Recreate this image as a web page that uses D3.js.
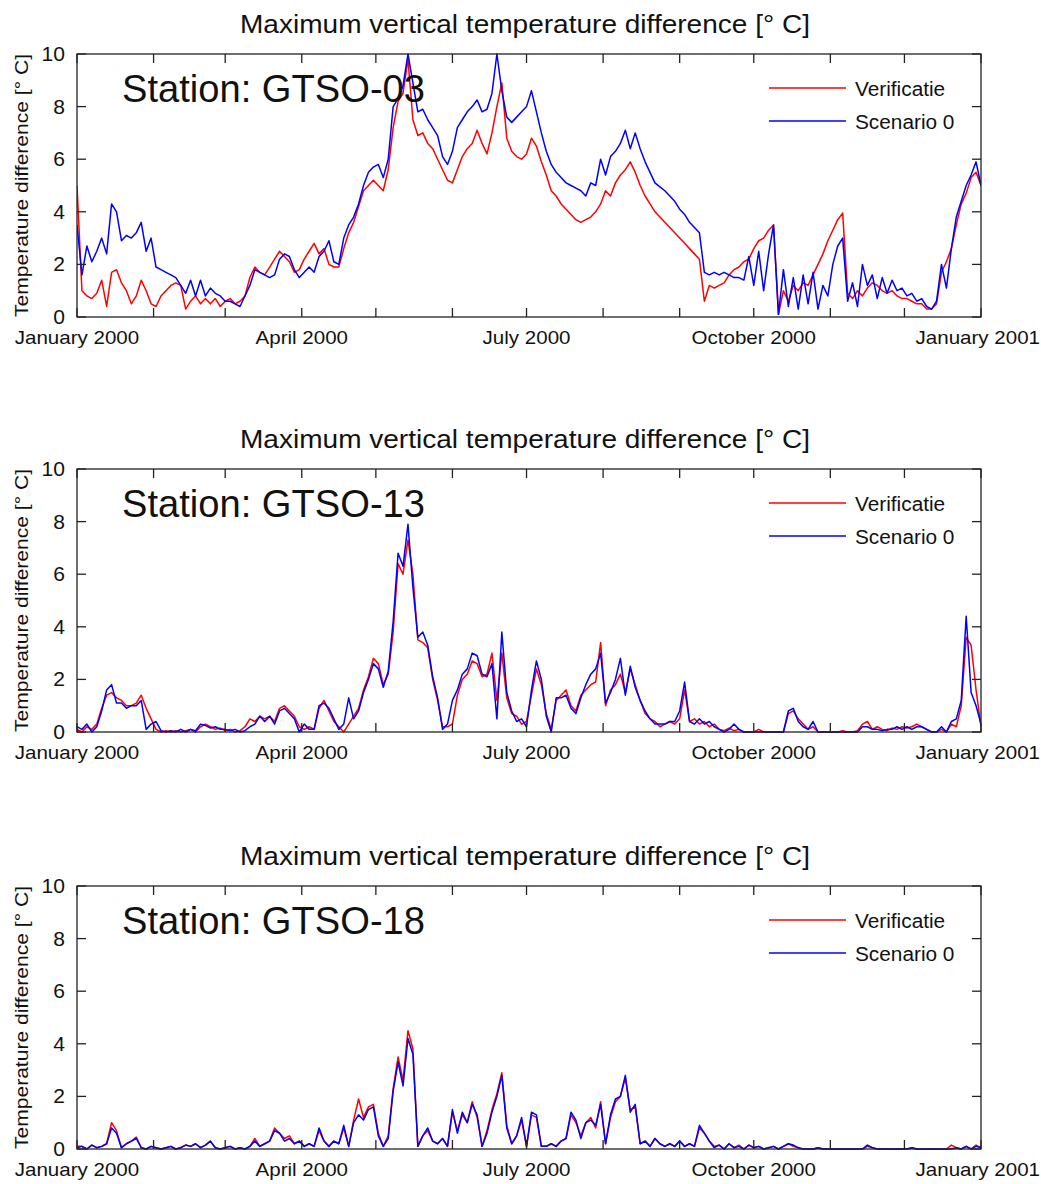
<!DOCTYPE html>
<html><head><meta charset="utf-8">
<script src="https://cdn.jsdelivr.net/npm/d3@7"></script>
<style>
body{margin:0;background:#fff}
svg{display:block}
text{font-family:"Liberation Sans",Arial,Helvetica,sans-serif;fill:#111}
</style>
</head><body>
<svg id="chart" width="1041" height="1184"></svg>
<script>
// ---------------- data ----------------
const titleText = "Maximum vertical temperature difference [\u00b0 C]";
const yLabelText = "Temperature difference [\u00b0 C]";
const stations = ["Station: GTSO-03", "Station: GTSO-13", "Station: GTSO-18"];
const seriesNames = ["Verificatie", "Scenario 0"];
const seriesColors = ["#ff0000", "#0000ff"];
const yTicks = [0, 2, 4, 6, 8, 10];
const labelledMonths = [0, 3, 6, 9]; // January, April, July, October (+ January of next year)
const startDate = new Date(Date.UTC(2000, 0, 1));
const endDate = new Date(Date.UTC(2001, 0, 1));
const stepDays = 2; // one value every 2 days

// Station GTSO-03
const verif03 = [
5.0,1.0,0.8,0.7,0.9,1.4,0.4,1.7,1.8,1.3,
1.0,0.5,0.8,1.4,1.0,0.5,0.4,0.8,1.0,1.2,
1.3,1.2,0.3,0.6,0.8,0.5,0.7,0.5,0.7,0.4,
0.6,0.7,0.5,0.6,0.8,1.5,1.9,1.7,1.6,1.9,
2.2,2.5,2.3,2.1,1.7,1.8,2.2,2.5,2.8,2.4,
2.6,2.0,1.9,1.9,2.6,3.2,3.6,4.2,4.8,5.0,
5.2,5.0,4.8,5.6,7.2,8.2,8.5,9.8,7.5,6.9,
7.0,6.6,6.4,6.0,5.6,5.2,5.1,5.6,6.1,6.4,
6.6,7.1,6.6,6.2,7.0,8.0,8.9,6.8,6.3,6.1,
6.0,6.2,6.8,6.5,5.9,5.4,4.8,4.6,4.3,4.1,
3.9,3.7,3.6,3.7,3.8,4.0,4.3,4.8,4.6,5.1,
5.4,5.6,5.9,5.5,5.0,4.6,4.3,4.0,3.8,3.6,
3.4,3.2,3.0,2.8,2.6,2.4,2.2,0.6,1.2,1.1,
1.2,1.3,1.6,1.8,1.9,2.1,2.2,2.6,2.9,3.0,
3.3,3.5,0.1,1.0,0.6,1.2,1.0,1.3,1.2,1.6,
2.0,2.4,2.9,3.3,3.7,3.95,0.9,0.7,1.0,0.8,
1.1,1.3,1.2,1.0,0.9,1.0,0.8,0.7,0.7,0.6,
0.5,0.5,0.3,0.3,0.5,1.7,2.1,2.6,3.5,4.3,
4.7,5.3,5.5,5.0];
const scen03 = [
3.5,1.6,2.7,2.1,2.5,3.0,2.4,4.3,4.0,2.9,
3.1,3.0,3.2,3.6,2.5,3.0,1.9,1.8,1.7,1.6,
1.5,1.2,0.9,1.4,0.8,1.4,0.8,1.1,0.9,0.8,
0.6,0.6,0.5,0.4,0.8,1.2,1.8,1.7,1.6,1.5,
1.6,2.2,2.4,2.3,1.8,1.5,1.7,1.9,1.7,2.3,
2.5,2.9,2.1,2.0,3.0,3.5,3.8,4.3,5.0,5.5,
5.7,5.8,5.3,6.0,8.0,8.3,8.8,10.0,8.9,7.8,
7.9,7.5,7.2,6.9,6.1,5.8,6.3,7.2,7.5,7.8,
8.0,8.25,7.8,7.9,8.5,10.0,8.6,7.6,7.4,7.6,
7.8,8.0,8.6,7.8,7.0,6.3,5.8,5.5,5.3,5.1,
5.0,4.9,4.8,4.6,5.1,5.0,6.0,5.4,6.1,6.3,
6.6,7.1,6.4,7.0,6.4,5.9,5.5,5.1,4.95,4.8,
4.6,4.4,4.1,3.9,3.6,3.4,3.2,1.7,1.6,1.7,
1.6,1.7,1.6,1.5,1.5,1.4,2.3,1.2,2.5,1.0,
2.4,3.5,0.1,1.8,0.4,1.5,0.3,1.6,0.5,1.7,
0.3,1.2,0.8,2.0,2.7,3.0,0.6,1.3,0.4,2.0,
1.2,1.6,0.7,1.5,0.9,1.4,1.0,1.1,0.8,0.9,
0.6,0.7,0.4,0.3,0.6,2.0,1.1,2.6,3.8,4.4,
5.0,5.4,5.9,5.0];

// Station GTSO-13
const verif13 = [
0.1,0.0,0.2,0.1,0.3,0.9,1.4,1.5,1.3,1.2,
1.0,1.0,1.1,1.4,0.9,0.5,0.1,0.0,0.05,0.0,
0.05,0.0,0.05,0.1,0.0,0.2,0.3,0.2,0.1,0.15,
0.05,0.1,0.0,0.05,0.2,0.5,0.4,0.6,0.5,0.6,
0.4,0.9,1.0,0.8,0.6,0.2,0.1,0.2,0.1,0.9,
1.2,0.8,0.4,0.2,0.0,0.3,0.6,0.9,1.6,2.1,
2.8,2.6,1.8,2.2,3.8,6.4,6.0,7.3,6.0,3.5,
3.4,3.2,2.0,1.2,0.2,0.2,0.3,1.4,2.0,2.2,
2.7,2.6,2.1,2.2,3.0,1.2,3.0,1.3,0.7,0.6,
0.3,0.4,1.4,2.4,1.8,0.7,0.1,1.2,1.4,1.6,
1.0,0.8,1.4,1.6,1.8,1.9,3.4,1.0,1.6,1.8,
2.2,1.5,2.4,1.8,1.2,0.7,0.5,0.4,0.2,0.3,
0.4,0.3,0.5,1.6,0.4,0.5,0.3,0.4,0.2,0.3,
0.1,0.05,0.15,0.05,0.1,0.0,0.0,0.0,0.1,0.0,
0.0,0.0,0.0,0.0,0.7,0.8,0.5,0.3,0.1,0.2,
0.0,0.0,0.0,0.0,0.0,0.05,0.0,0.0,0.05,0.3,
0.4,0.1,0.2,0.1,0.05,0.15,0.1,0.2,0.15,0.2,
0.3,0.2,0.1,0.0,0.0,0.1,0.0,0.3,0.2,1.0,
3.6,3.3,1.6,0.2];
const scen13 = [
0.2,0.1,0.3,0.0,0.2,0.8,1.6,1.8,1.1,1.1,
0.9,1.0,1.0,1.2,0.1,0.3,0.4,0.05,0.0,0.05,
0.0,0.1,0.0,0.1,0.05,0.3,0.25,0.15,0.2,0.1,
0.1,0.05,0.1,0.0,0.05,0.2,0.3,0.6,0.4,0.6,
0.3,0.8,0.9,0.7,0.5,0.0,0.3,0.1,0.1,1.0,
1.1,0.9,0.5,0.1,0.3,1.3,0.5,0.8,1.5,2.0,
2.6,2.4,1.7,2.3,4.2,6.8,6.3,7.9,5.5,3.6,
3.8,3.3,2.1,1.3,0.1,0.3,1.2,1.6,2.2,2.4,
3.0,2.9,2.2,2.1,2.6,0.5,3.8,1.5,0.8,0.4,
0.5,0.2,1.6,2.7,2.0,0.6,0.0,1.3,1.3,1.4,
0.9,0.7,1.3,1.8,2.2,2.4,3.0,1.1,1.5,2.0,
2.8,1.4,2.5,1.7,1.2,0.8,0.5,0.3,0.3,0.3,
0.4,0.4,0.8,1.9,0.4,0.3,0.5,0.3,0.4,0.2,
0.1,0.0,0.1,0.3,0.1,0.0,0.0,0.0,0.0,0.0,
0.0,0.0,0.0,0.0,0.8,0.9,0.4,0.2,0.1,0.4,
0.0,0.0,0.0,0.0,0.0,0.0,0.0,0.0,0.0,0.2,
0.2,0.1,0.1,0.05,0.1,0.1,0.2,0.1,0.2,0.1,
0.2,0.2,0.1,0.0,0.0,0.2,0.0,0.4,0.5,1.2,
4.4,1.5,1.0,0.3];

// Station GTSO-18
const verif18 = [
0.1,0.1,0.0,0.15,0.05,0.1,0.2,1.0,0.7,0.05,
0.2,0.3,0.45,0.05,0.0,0.1,0.05,0.0,0.05,0.1,
0.0,0.05,0.15,0.1,0.2,0.05,0.15,0.3,0.05,0.0,
0.05,0.1,0.0,0.05,0.0,0.1,0.4,0.1,0.2,0.3,
0.8,0.6,0.4,0.5,0.2,0.3,0.1,0.2,0.1,0.7,
0.3,0.1,0.3,0.2,0.8,0.1,1.1,1.9,1.2,1.6,
1.7,0.6,0.1,0.5,2.3,3.5,2.6,4.5,3.8,0.1,
0.5,0.7,0.3,0.2,0.4,0.1,1.4,0.7,1.3,1.0,
1.8,1.2,0.1,0.7,1.5,2.1,2.9,0.9,0.2,0.5,
1.1,0.1,1.3,1.2,0.1,0.1,0.2,0.1,0.3,0.4,
1.3,1.0,0.5,1.0,1.2,0.8,1.8,0.2,1.2,1.8,
2.0,2.7,1.5,1.6,0.2,0.3,0.1,0.4,0.2,0.1,
0.2,0.1,0.3,0.1,0.2,0.1,0.8,0.6,0.3,0.1,
0.15,0.0,0.2,0.05,0.15,0.0,0.15,0.05,0.1,0.0,
0.05,0.1,0.0,0.1,0.2,0.1,0.05,0.0,0.0,0.0,
0.05,0.0,0.0,0.0,0.0,0.0,0.0,0.0,0.0,0.0,
0.1,0.05,0.0,0.0,0.0,0.0,0.0,0.0,0.0,0.05,
0.0,0.0,0.0,0.0,0.0,0.0,0.0,0.15,0.05,0.0,
0.1,0.0,0.15,0.05];
const scen18 = [
0.05,0.1,0.0,0.15,0.05,0.1,0.2,0.8,0.6,0.05,
0.2,0.3,0.4,0.05,0.0,0.1,0.05,0.0,0.05,0.1,
0.0,0.05,0.15,0.1,0.2,0.05,0.15,0.3,0.05,0.0,
0.05,0.1,0.0,0.05,0.0,0.1,0.3,0.1,0.2,0.3,
0.7,0.6,0.3,0.4,0.2,0.3,0.1,0.2,0.1,0.8,
0.3,0.1,0.3,0.2,0.9,0.1,1.0,1.3,1.1,1.5,
1.6,0.5,0.1,0.4,2.2,3.3,2.4,4.2,3.6,0.1,
0.5,0.8,0.3,0.2,0.4,0.1,1.5,0.6,1.4,1.0,
1.7,1.3,0.1,0.6,1.4,2.0,2.8,0.8,0.2,0.5,
1.2,0.1,1.4,1.3,0.1,0.1,0.2,0.1,0.3,0.4,
1.4,1.1,0.4,1.0,1.1,0.9,1.7,0.2,1.3,1.9,
2.0,2.8,1.4,1.7,0.2,0.3,0.1,0.4,0.2,0.1,
0.2,0.1,0.3,0.1,0.2,0.1,0.9,0.6,0.3,0.05,
0.15,0.0,0.2,0.05,0.1,0.0,0.15,0.05,0.1,0.0,
0.05,0.1,0.0,0.1,0.2,0.15,0.05,0.0,0.0,0.0,
0.05,0.0,0.0,0.0,0.0,0.0,0.0,0.0,0.0,0.0,
0.15,0.05,0.0,0.0,0.0,0.0,0.0,0.0,0.0,0.05,
0.0,0.0,0.0,0.0,0.0,0.0,0.0,0.0,0.05,0.0,
0.1,0.0,0.1,0.05];

const panelSeries = [[verif03, scen03], [verif13, scen13], [verif18, scen18]];

// ---------------- layout ----------------
const svg = d3.select("#chart");
const left = 77, right = 981;
const panelTops = [54, 469, 886];
const panelH = 263;
const tickLen = 9;

const x = d3.scaleUtc().domain([startDate, endDate]).range([left, right]);
const monthTicks = d3.utcMonth.range(startDate, d3.utcDay.offset(endDate, 1));

// widen glyphs a little, like the reference's stretched lettering
function stretch(sel, k) {
  const w = sel.node().getComputedTextLength();
  sel.attr("textLength", w * k).attr("lengthAdjust", "spacingAndGlyphs");
  return w * k;
}

panelSeries.forEach((series, p) => {
  const top = panelTops[p];
  const y = d3.scaleLinear().domain([0, 10]).range([top + panelH, top]);
  const g = svg.append("g");

  const clipId = "clip" + p;
  g.append("clipPath").attr("id", clipId).append("rect")
    .attr("x", left).attr("y", top - 1).attr("width", right - left).attr("height", panelH + 2);

  const line = d3.line()
    .x((d, i) => x(d3.utcDay.offset(startDate, i * stepDays)))
    .y(d => y(d));
  series.forEach((vals, s) => {
    g.append("path").datum(vals)
      .attr("clip-path", `url(#${clipId})`)
      .attr("fill", "none")
      .attr("stroke", seriesColors[s])
      .attr("stroke-width", 1.5)
      .attr("stroke-linejoin", "round")
      .attr("d", line);
  });

  // frame
  g.append("rect").attr("x", left).attr("y", top).attr("width", right - left).attr("height", panelH)
    .attr("fill", "none").attr("stroke", "#222").attr("stroke-width", 1.3);

  // x ticks (top & bottom, inward)
  monthTicks.forEach(t => {
    const xx = x(t);
    g.append("line").attr("x1", xx).attr("x2", xx).attr("y1", top + panelH).attr("y2", top + panelH - tickLen)
      .attr("stroke", "#222").attr("stroke-width", 1.3);
    g.append("line").attr("x1", xx).attr("x2", xx).attr("y1", top).attr("y2", top + tickLen)
      .attr("stroke", "#222").attr("stroke-width", 1.3);
  });
  const fmt = d3.utcFormat("%B %Y");
  monthTicks.filter(t => labelledMonths.includes(t.getUTCMonth())).forEach(t => {
    const txt = g.append("text").attr("y", top + panelH + 27)
      .attr("font-size", 18.5).attr("text-anchor", "middle").text(fmt(t));
    const w = stretch(txt, 1.11);
    let xx = x(t);
    xx = Math.min(xx, 1040 - w / 2);
    xx = Math.max(xx, w / 2 + 1);
    txt.attr("x", xx);
  });

  // y ticks (left & right, inward)
  yTicks.forEach(v => {
    const yy = y(v);
    g.append("line").attr("x1", left).attr("x2", left + tickLen).attr("y1", yy).attr("y2", yy)
      .attr("stroke", "#222").attr("stroke-width", 1.3);
    g.append("line").attr("x1", right).attr("x2", right - tickLen).attr("y1", yy).attr("y2", yy)
      .attr("stroke", "#222").attr("stroke-width", 1.3);
    const tl = g.append("text").attr("x", left - 12).attr("y", yy).attr("dy", "0.36em")
      .attr("font-size", 19.5).attr("text-anchor", "end").text(v);
    stretch(tl, 1.08);
  });

  // y label
  g.append("text")
    .attr("transform", `translate(28,${top + panelH / 2}) rotate(-90)`)
    .attr("text-anchor", "middle").attr("font-size", 18.5)
    .attr("textLength", 263).attr("lengthAdjust", "spacingAndGlyphs")
    .text(yLabelText);

  // title
  g.append("text").attr("x", 525).attr("y", top - 21)
    .attr("text-anchor", "middle").attr("font-size", 26)
    .attr("textLength", 570).attr("lengthAdjust", "spacingAndGlyphs")
    .text(titleText);

  // station label
  g.append("text").attr("x", 122).attr("y", top + 48)
    .attr("font-size", 39)
    .attr("textLength", 303).attr("lengthAdjust", "spacingAndGlyphs")
    .text(stations[p]);

  // legend
  seriesNames.forEach((name, s) => {
    const ly = top + 34 + s * 33;
    g.append("line").attr("x1", 769).attr("x2", 846).attr("y1", ly).attr("y2", ly)
      .attr("stroke", seriesColors[s]).attr("stroke-width", 1.4);
    const lt = g.append("text").attr("x", 855).attr("y", ly + 7.5).attr("font-size", 20).text(name);
    stretch(lt, 1.04);
  });
});
</script>
</body></html>
